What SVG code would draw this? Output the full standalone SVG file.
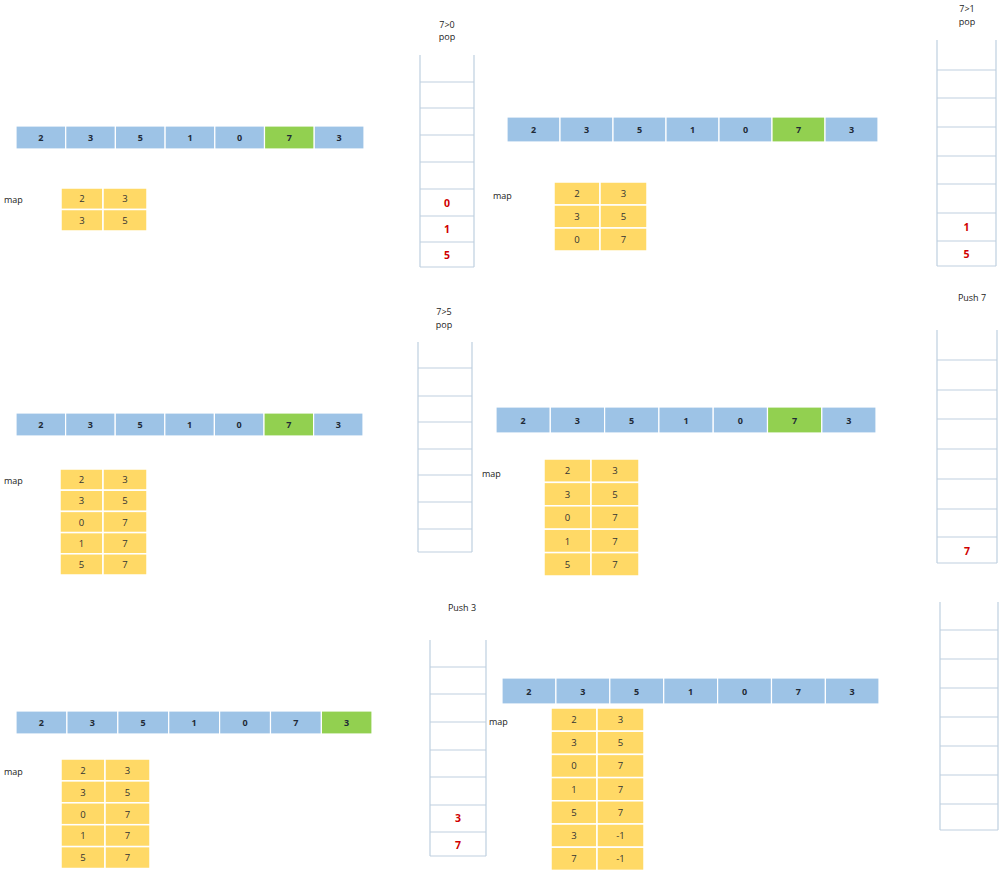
<svg xmlns="http://www.w3.org/2000/svg" width="1002" height="871" viewBox="0 0 1002 871">
<style>
.b{fill:#9DC3E6;stroke:#fff;stroke-width:1.2}
.g{fill:#92D050;stroke:#fff;stroke-width:1.2}
.y{fill:#FFD966;stroke:#fff;stroke-width:1.5}
.st{fill:none;stroke:#BFD0E0;stroke-width:1.2}
.at{font-family:"Open Sans","Liberation Sans",sans-serif;font-size:9px;font-weight:bold;fill:#1F2A36;text-anchor:middle}
.mt{font-family:"Open Sans","Liberation Sans",sans-serif;font-size:9.5px;fill:#333;text-anchor:middle}
.lb{font-family:"Open Sans","Liberation Sans",sans-serif;font-size:9px;fill:#222}
.lc{font-family:"Open Sans","Liberation Sans",sans-serif;font-size:9px;fill:#222;text-anchor:middle}
.rv{font-family:"Open Sans","Liberation Sans",sans-serif;font-size:10.5px;font-weight:bold;fill:#D00000;text-anchor:middle}
</style>
<rect width="1002" height="871" fill="#fff"/>

<!-- Panel 1 -->
<g id="array1">
<rect class="b" x="16" y="126" width="49.7" height="23"/><rect class="b" x="65.7" y="126" width="49.7" height="23"/><rect class="b" x="115.4" y="126" width="49.7" height="23"/><rect class="b" x="165.1" y="126" width="49.7" height="23"/><rect class="b" x="214.8" y="126" width="49.7" height="23"/><rect class="g" x="264.5" y="126" width="49.7" height="23"/><rect class="b" x="314.2" y="126" width="49.8" height="23"/>
<text class="at" x="40.9" y="141">2</text><text class="at" x="90.6" y="141">3</text><text class="at" x="140.3" y="141">5</text><text class="at" x="190" y="141">1</text><text class="at" x="239.7" y="141">0</text><text class="at" x="289.4" y="141">7</text><text class="at" x="339.1" y="141">3</text>
</g>
<g id="map1">
<text class="lb" x="4" y="203">map</text>
<rect class="y" x="61" y="188" width="42" height="21.5"/><rect class="y" x="103" y="188" width="44" height="21.5"/>
<rect class="y" x="61" y="209.5" width="42" height="21.5"/><rect class="y" x="103" y="209.5" width="44" height="21.5"/>
<text class="mt" x="82" y="202">2</text><text class="mt" x="125" y="202">3</text>
<text class="mt" x="82" y="223.5">3</text><text class="mt" x="125" y="223.5">5</text>
</g>
<g id="stack1">
<text class="lc" x="447" y="28">7&gt;0</text><text class="lc" x="447" y="40">pop</text>
<path class="st" d="M420 55V267M474 55V267M420 82H474M420 108H474M420 135H474M420 162H474M420 189H474M420 216H474M420 242H474M420 267H474"/>
<text class="rv" x="447" y="206.5">0</text><text class="rv" x="447" y="233">1</text><text class="rv" x="447" y="259">5</text>
</g>

<!-- Panel 2 -->
<g id="array2">
<rect class="b" x="507" y="117" width="53" height="25"/><rect class="b" x="560" y="117" width="53" height="25"/><rect class="b" x="613" y="117" width="53" height="25"/><rect class="b" x="666" y="117" width="53" height="25"/><rect class="b" x="719" y="117" width="53" height="25"/><rect class="g" x="772" y="117" width="53" height="25"/><rect class="b" x="825" y="117" width="53" height="25"/>
<text class="at" x="533.5" y="133">2</text><text class="at" x="586.5" y="133">3</text><text class="at" x="639.5" y="133">5</text><text class="at" x="692.5" y="133">1</text><text class="at" x="745.5" y="133">0</text><text class="at" x="798.5" y="133">7</text><text class="at" x="851.5" y="133">3</text>
</g>
<g id="map2">
<text class="lb" x="493" y="199">map</text>
<rect class="y" x="554" y="182" width="46" height="23"/><rect class="y" x="600" y="182" width="47" height="23"/>
<rect class="y" x="554" y="205" width="46" height="23"/><rect class="y" x="600" y="205" width="47" height="23"/>
<rect class="y" x="554" y="228" width="46" height="23"/><rect class="y" x="600" y="228" width="47" height="23"/>
<text class="mt" x="577" y="197">2</text><text class="mt" x="623.5" y="197">3</text>
<text class="mt" x="577" y="220">3</text><text class="mt" x="623.5" y="220">5</text>
<text class="mt" x="577" y="243">0</text><text class="mt" x="623.5" y="243">7</text>
</g>
<g id="stack2">
<text class="lc" x="967" y="12">7&gt;1</text><text class="lc" x="967" y="25">pop</text>
<path class="st" d="M937 40V266M996 40V266M937 70H996M937 98H996M937 127H996M937 156H996M937 184H996M937 213H996M937 241H996M937 266H996"/>
<text class="rv" x="966.5" y="231">1</text><text class="rv" x="966.5" y="258">5</text>
</g>

<!-- Panel 3 -->
<g id="array3">
<rect class="b" x="16" y="413" width="49.6" height="23"/><rect class="b" x="65.6" y="413" width="49.6" height="23"/><rect class="b" x="115.2" y="413" width="49.6" height="23"/><rect class="b" x="164.8" y="413" width="49.6" height="23"/><rect class="b" x="214.4" y="413" width="49.6" height="23"/><rect class="g" x="264" y="413" width="49.6" height="23"/><rect class="b" x="313.6" y="413" width="49.4" height="23"/>
<text class="at" x="40.8" y="428">2</text><text class="at" x="90.4" y="428">3</text><text class="at" x="140" y="428">5</text><text class="at" x="189.6" y="428">1</text><text class="at" x="239.2" y="428">0</text><text class="at" x="288.8" y="428">7</text><text class="at" x="338.3" y="428">3</text>
</g>
<g id="map3">
<text class="lb" x="4" y="484">map</text>
<rect class="y" x="60" y="469" width="43" height="21.2"/><rect class="y" x="103" y="469" width="44" height="21.2"/>
<rect class="y" x="60" y="490.2" width="43" height="21.2"/><rect class="y" x="103" y="490.2" width="44" height="21.2"/>
<rect class="y" x="60" y="511.4" width="43" height="21.2"/><rect class="y" x="103" y="511.4" width="44" height="21.2"/>
<rect class="y" x="60" y="532.6" width="43" height="21.2"/><rect class="y" x="103" y="532.6" width="44" height="21.2"/>
<rect class="y" x="60" y="553.8" width="43" height="21.2"/><rect class="y" x="103" y="553.8" width="44" height="21.2"/>
<text class="mt" x="81.5" y="483">2</text><text class="mt" x="125" y="483">3</text>
<text class="mt" x="81.5" y="504">3</text><text class="mt" x="125" y="504">5</text>
<text class="mt" x="81.5" y="525.5">0</text><text class="mt" x="125" y="525.5">7</text>
<text class="mt" x="81.5" y="546.5">1</text><text class="mt" x="125" y="546.5">7</text>
<text class="mt" x="81.5" y="568">5</text><text class="mt" x="125" y="568">7</text>
</g>
<g id="stack3">
<text class="lc" x="444" y="315">7&gt;5</text><text class="lc" x="444" y="328">pop</text>
<path class="st" d="M418 342V552M472 342V552M418 368H472M418 396H472M418 422H472M418 449H472M418 475H472M418 502H472M418 529H472M418 552H472"/>
</g>

<!-- Panel 4 -->
<g id="array4">
<rect class="b" x="496" y="407" width="54.3" height="26"/><rect class="b" x="550.3" y="407" width="54.3" height="26"/><rect class="b" x="604.6" y="407" width="54.3" height="26"/><rect class="b" x="658.9" y="407" width="54.3" height="26"/><rect class="b" x="713.2" y="407" width="54.3" height="26"/><rect class="g" x="767.5" y="407" width="54.3" height="26"/><rect class="b" x="821.8" y="407" width="54.2" height="26"/>
<text class="at" x="523.1" y="423.5">2</text><text class="at" x="577.4" y="423.5">3</text><text class="at" x="631.7" y="423.5">5</text><text class="at" x="686" y="423.5">1</text><text class="at" x="740.3" y="423.5">0</text><text class="at" x="794.6" y="423.5">7</text><text class="at" x="848.9" y="423.5">3</text>
</g>
<g id="map4">
<text class="lb" x="482" y="477">map</text>
<rect class="y" x="544" y="459" width="47" height="23.4"/><rect class="y" x="591" y="459" width="48" height="23.4"/>
<rect class="y" x="544" y="482.4" width="47" height="23.4"/><rect class="y" x="591" y="482.4" width="48" height="23.4"/>
<rect class="y" x="544" y="505.8" width="47" height="23.4"/><rect class="y" x="591" y="505.8" width="48" height="23.4"/>
<rect class="y" x="544" y="529.2" width="47" height="23.4"/><rect class="y" x="591" y="529.2" width="48" height="23.4"/>
<rect class="y" x="544" y="552.6" width="47" height="23.4"/><rect class="y" x="591" y="552.6" width="48" height="23.4"/>
<text class="mt" x="567.5" y="474">2</text><text class="mt" x="615" y="474">3</text>
<text class="mt" x="567.5" y="497.5">3</text><text class="mt" x="615" y="497.5">5</text>
<text class="mt" x="567.5" y="521">0</text><text class="mt" x="615" y="521">7</text>
<text class="mt" x="567.5" y="544.5">1</text><text class="mt" x="615" y="544.5">7</text>
<text class="mt" x="567.5" y="568">5</text><text class="mt" x="615" y="568">7</text>
</g>
<g id="stack4">
<text class="lc" x="972" y="301">Push 7</text>
<path class="st" d="M937 330V563M997 330V563M937 360H997M937 390H997M937 419H997M937 449H997M937 479H997M937 509H997M937 537H997M937 563H997"/>
<text class="rv" x="967" y="554.5">7</text>
</g>

<!-- Panel 5 -->
<g id="array5">
<rect class="b" x="16" y="711" width="50.9" height="23"/><rect class="b" x="66.9" y="711" width="50.9" height="23"/><rect class="b" x="117.8" y="711" width="50.9" height="23"/><rect class="b" x="168.7" y="711" width="50.9" height="23"/><rect class="b" x="219.6" y="711" width="50.9" height="23"/><rect class="b" x="270.5" y="711" width="50.9" height="23"/><rect class="g" x="321.4" y="711" width="50.6" height="23"/>
<text class="at" x="41.4" y="726">2</text><text class="at" x="92.3" y="726">3</text><text class="at" x="143.2" y="726">5</text><text class="at" x="194.1" y="726">1</text><text class="at" x="245" y="726">0</text><text class="at" x="295.9" y="726">7</text><text class="at" x="346.7" y="726">3</text>
</g>
<g id="map5">
<text class="lb" x="4" y="775">map</text>
<rect class="y" x="61" y="759" width="44" height="21.9"/><rect class="y" x="105" y="759" width="45" height="21.9"/>
<rect class="y" x="61" y="780.9" width="44" height="21.9"/><rect class="y" x="105" y="780.9" width="45" height="21.9"/>
<rect class="y" x="61" y="802.8" width="44" height="21.9"/><rect class="y" x="105" y="802.8" width="45" height="21.9"/>
<rect class="y" x="61" y="824.7" width="44" height="21.9"/><rect class="y" x="105" y="824.7" width="45" height="21.9"/>
<rect class="y" x="61" y="846.6" width="44" height="21.9"/><rect class="y" x="105" y="846.6" width="45" height="21.9"/>
<text class="mt" x="83" y="773.5">2</text><text class="mt" x="127.5" y="773.5">3</text>
<text class="mt" x="83" y="795.5">3</text><text class="mt" x="127.5" y="795.5">5</text>
<text class="mt" x="83" y="817.5">0</text><text class="mt" x="127.5" y="817.5">7</text>
<text class="mt" x="83" y="839">1</text><text class="mt" x="127.5" y="839">7</text>
<text class="mt" x="83" y="861">5</text><text class="mt" x="127.5" y="861">7</text>
</g>
<g id="stack5">
<text class="lc" x="462" y="611">Push 3</text>
<path class="st" d="M430 640V856M486 640V856M430 667H486M430 694H486M430 722H486M430 750H486M430 777H486M430 805H486M430 832H486M430 856H486"/>
<text class="rv" x="458" y="822">3</text><text class="rv" x="458" y="848.5">7</text>
</g>

<!-- Panel 6 -->
<g id="array6">
<rect class="b" x="502" y="678" width="53.9" height="26"/><rect class="b" x="555.9" y="678" width="53.9" height="26"/><rect class="b" x="609.8" y="678" width="53.9" height="26"/><rect class="b" x="663.7" y="678" width="53.9" height="26"/><rect class="b" x="717.6" y="678" width="53.9" height="26"/><rect class="b" x="771.5" y="678" width="53.9" height="26"/><rect class="b" x="825.4" y="678" width="53.6" height="26"/>
<text class="at" x="528.9" y="694.5">2</text><text class="at" x="582.8" y="694.5">3</text><text class="at" x="636.7" y="694.5">5</text><text class="at" x="690.6" y="694.5">1</text><text class="at" x="744.5" y="694.5">0</text><text class="at" x="798.4" y="694.5">7</text><text class="at" x="852.2" y="694.5">3</text>
</g>
<g id="map6">
<text class="lb" x="489" y="725">map</text>
<rect class="y" x="551" y="708" width="46" height="23.2"/><rect class="y" x="597" y="708" width="47" height="23.2"/>
<rect class="y" x="551" y="731.2" width="46" height="23.2"/><rect class="y" x="597" y="731.2" width="47" height="23.2"/>
<rect class="y" x="551" y="754.4" width="46" height="23.2"/><rect class="y" x="597" y="754.4" width="47" height="23.2"/>
<rect class="y" x="551" y="777.6" width="46" height="23.2"/><rect class="y" x="597" y="777.6" width="47" height="23.2"/>
<rect class="y" x="551" y="800.8" width="46" height="23.2"/><rect class="y" x="597" y="800.8" width="47" height="23.2"/>
<rect class="y" x="551" y="824" width="46" height="23.2"/><rect class="y" x="597" y="824" width="47" height="23.2"/>
<rect class="y" x="551" y="847.2" width="46" height="23.2"/><rect class="y" x="597" y="847.2" width="47" height="23.2"/>
<text class="mt" x="574" y="723">2</text><text class="mt" x="620.5" y="723">3</text>
<text class="mt" x="574" y="746">3</text><text class="mt" x="620.5" y="746">5</text>
<text class="mt" x="574" y="769">0</text><text class="mt" x="620.5" y="769">7</text>
<text class="mt" x="574" y="792.5">1</text><text class="mt" x="620.5" y="792.5">7</text>
<text class="mt" x="574" y="815.5">5</text><text class="mt" x="620.5" y="815.5">7</text>
<text class="mt" x="574" y="839">3</text><text class="mt" x="620.5" y="839">-1</text>
<text class="mt" x="574" y="862">7</text><text class="mt" x="620.5" y="862">-1</text>
</g>
<g id="stack6">
<path class="st" d="M940 602V830M998 602V830M940 630H998M940 659H998M940 688H998M940 717H998M940 746H998M940 775H998M940 804H998M940 830H998"/>
</g>
<g id="connectors"/>
</svg>
